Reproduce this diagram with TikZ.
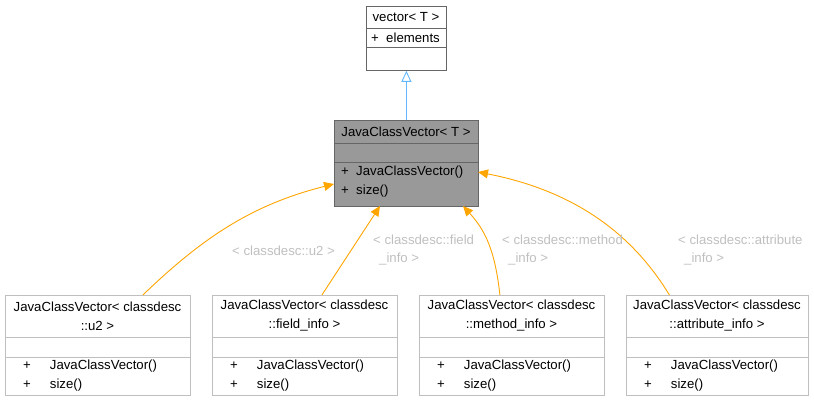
\documentclass[tikz,border=0pt]{standalone}
\usepackage{fontspec}
\setmainfont{Liberation Sans}
\usetikzlibrary{arrows.meta}
\definecolor{edge}{HTML}{FFA500}
\definecolor{inh}{HTML}{63B8FF}
\definecolor{lbl}{HTML}{BFBFBF}
\definecolor{bd}{HTML}{BFBFBF}
\definecolor{dk}{HTML}{666666}
\definecolor{mainfill}{HTML}{999999}
\begin{document}
\begin{tikzpicture}[x=1pt,y=-1pt,
  box/.style={draw=bd,line width=0.8pt,inner sep=0,anchor=north west},
  t/.style={font=\fontsize{13.2}{16}\selectfont,inner sep=0,anchor=west},
  tc/.style={font=\fontsize{13.2}{19}\selectfont,inner sep=0,align=center},
  lab/.style={font=\fontsize{13.2}{16}\selectfont,text=lbl,inner sep=0,anchor=west},
  dep/.style={draw=edge,line width=0.9pt,-{Triangle[length=10pt,width=9pt]}}]
\useasboundingbox (0,0) rectangle (814,401);
% top box
\node[box,draw=dk,minimum width=80pt,minimum height=64pt] (V) at (366,6) {};
\draw[dk,line width=0.8pt] (366,28) -- (446,28) (366,47) -- (446,47);
\node[tc] (Vt) at (406,17) {vector< T >};
\node[t] (Va) at (371,37.5) {+\ \ elements};
% main box
\node[box,draw=dk,fill=mainfill,minimum width=144pt,minimum height=86pt] (M) at (334,120) {};
\draw[dk,line width=0.8pt] (334,143) -- (478,143) (334,162) -- (478,162);
\node[tc] (Mt) at (406,131.5) {JavaClassVector< T >};
\node[t] (M1) at (341,172) {+\ \ JavaClassVector()};
\node[t] (M2) at (341,191) {+\ \ size()};
\draw[inh,line width=0.9pt,-{Triangle[open,length=11pt,width=10pt]},fill=white] (M.north) -- (V.south);
% bottom boxes
\foreach \n/\x/\w/\s in {A/5/185/u2 >, B/212/185/field\_info >, C/419/185/method\_info >, D/626/182/attribute\_info >}{
  \node[box,minimum width=\w pt,minimum height=100pt] (\n) at (\x,295) {};
  \draw[bd,line width=0.8pt] (\x,337) -- ++(\w,0) (\x,357) -- ++(\w,0);
  \node[tc] (\n t) at ({\x+\w/2},316) {JavaClassVector< classdesc\\::\s};
  \node[t] (\n 1) at (\x+18,366) {+\hspace{19pt}JavaClassVector()};
  \node[t] (\n 2) at (\x+18,385) {+\hspace{19pt}size()};
}
% dependency edges
\coordinate (Ma) at (334,184);
\coordinate (Mb) at (380,206);
\coordinate (Mc) at (463,206);
\coordinate (Md) at (478,172);
\draw[dep] (A.north) ++(45,0) coordinate (Aa) .. controls (200,240) and (250,205) .. (Ma);
\draw[dep] (B.north) ++(17,0) coordinate (Bb) -- (Mb);
\draw[dep] (C.north) ++(-12,0) coordinate (Cc) .. controls (495,250) and (485,230) .. (Mc);
\draw[dep] (D.north) ++(-48,0) coordinate (Dd) .. controls (630,230) and (570,190) .. (Md);
\node[lab] (L1) at (232,251) {< classdesc::u2 >};
\node[lab] (L2) at (373,240) {< classdesc::field};
\node[lab] (L2b) at (379,259) {\_info >};
\node[lab] (L3) at (502,240) {< classdesc::method};
\node[lab] (L3b) at (508,259) {\_info >};
\node[lab] (L4) at (678,240) {< classdesc::attribute};
\node[lab] (L4b) at (684,259) {\_info >};
\end{tikzpicture}
\end{document}
